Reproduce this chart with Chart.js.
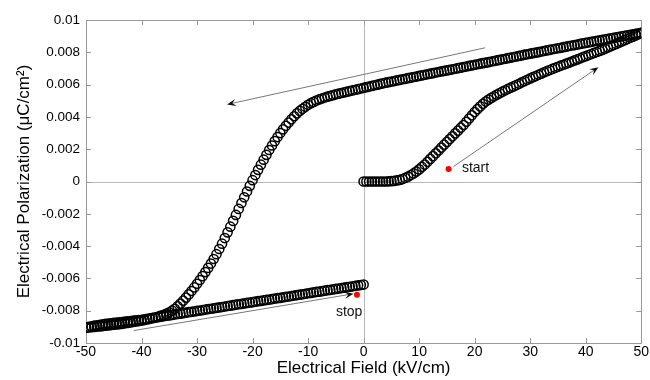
<!DOCTYPE html>
<html><head><meta charset="utf-8">
<script src="https://cdn.jsdelivr.net/npm/chart.js@4/dist/chart.umd.min.js"></script>
<style>html,body{margin:0;padding:0;background:#fff}#wrap{width:650px;height:380px}</style>
</head><body><div id="wrap"><canvas id="c" width="650" height="380"></canvas></div>
<script>
// Tick labels
const xTickValues = [-50,-40,-30,-20,-10,0,10,20,30,40,50];
const yTickValues = [-0.01,-0.008,-0.006,-0.004,-0.002,0,0.002,0.004,0.006,0.008,0.01];

// Branch 1: initial polarization, field 0 -> 50 kV/cm (polarization in 1e-3 uC/cm^2)
const initialField = [0,0.5,1,1.5,2,2.5,3,3.5,4,4.5,5,5.5,6,6.5,7,7.5,8,8.5,9,9.5,10,10.5,11,11.5,12,12.5,13,13.5,14,14.5,15,15.5,16,16.5,17,17.5,18,18.5,19,19.5,20,20.5,21,21.5,22,22.5,23,23.5,24,24.5,25,25.5,26,26.5,27,27.5,28,28.5,29,29.5,30,30.5,31,31.5,32,32.5,33,33.5,34,34.5,35,35.5,36,36.5,37,37.5,38,38.5,39,39.5,40,40.5,41,41.5,42,42.5,43,43.5,44,44.5,45,45.5,46,46.5,47,47.5,48,48.5,49,49.5,50];
const initialPolMilli = [0,0,0,0,0,0,0,0,0,0.01,0.02,0.04,0.07,0.1,0.15,0.22,0.3,0.4,0.5,0.62,0.75,0.9,1.05,1.22,1.4,1.57,1.75,1.92,2.1,2.28,2.45,2.63,2.8,2.98,3.15,3.33,3.5,3.7,3.9,4.1,4.3,4.48,4.65,4.81,4.95,5.07,5.18,5.28,5.38,5.47,5.56,5.65,5.73,5.81,5.89,5.97,6.05,6.14,6.22,6.3,6.38,6.46,6.53,6.61,6.68,6.76,6.83,6.9,6.97,7.04,7.1,7.17,7.23,7.3,7.36,7.43,7.5,7.56,7.63,7.7,7.76,7.83,7.89,7.96,8.02,8.09,8.15,8.22,8.3,8.37,8.45,8.52,8.6,8.67,8.75,8.82,8.9,8.97,9.05,9.12,9.2];

// Branch 2: descending, field 50 -> -50 kV/cm
const descendField = [50,49.5,49,48.5,48,47.5,47,46.5,46,45.5,45,44.5,44,43.5,43,42.5,42,41.5,41,40.5,40,39.5,39,38.5,38,37.5,37,36.5,36,35.5,35,34.5,34,33.5,33,32.5,32,31.5,31,30.5,30,29.5,29,28.5,28,27.5,27,26.5,26,25.5,25,24.5,24,23.5,23,22.5,22,21.5,21,20.5,20,19.5,19,18.5,18,17.5,17,16.5,16,15.5,15,14.5,14,13.5,13,12.5,12,11.5,11,10.5,10,9.5,9,8.5,8,7.5,7,6.5,6,5.5,5,4.5,4,3.5,3,2.5,2,1.5,1,0.5,0,-0.5,-1,-1.5,-2,-2.5,-3,-3.5,-4,-4.5,-5,-5.5,-6,-6.5,-7,-7.5,-8,-8.5,-9,-9.5,-10,-10.5,-11,-11.5,-12,-12.5,-13,-13.5,-14,-14.5,-15,-15.5,-16,-16.5,-17,-17.5,-18,-18.5,-19,-19.5,-20,-20.5,-21,-21.5,-22,-22.5,-23,-23.5,-24,-24.5,-25,-25.5,-26,-26.5,-27,-27.5,-28,-28.5,-29,-29.5,-30,-30.5,-31,-31.5,-32,-32.5,-33,-33.5,-34,-34.5,-35,-35.5,-36,-36.5,-37,-37.5,-38,-38.5,-39,-39.5,-40,-40.5,-41,-41.5,-42,-42.5,-43,-43.5,-44,-44.5,-45,-45.5,-46,-46.5,-47,-47.5,-48,-48.5,-49,-49.5,-50];
const descendPolMilli = [9.2,9.17,9.14,9.11,9.08,9.05,9.02,8.99,8.96,8.93,8.9,8.87,8.84,8.8,8.77,8.74,8.71,8.68,8.65,8.61,8.58,8.55,8.52,8.48,8.45,8.42,8.39,8.35,8.32,8.28,8.25,8.22,8.19,8.15,8.12,8.08,8.05,8.01,7.98,7.95,7.92,7.88,7.85,7.81,7.78,7.74,7.71,7.67,7.64,7.6,7.57,7.53,7.5,7.46,7.43,7.39,7.36,7.33,7.3,7.26,7.23,7.19,7.16,7.12,7.09,7.05,7.02,6.98,6.95,6.91,6.88,6.85,6.82,6.78,6.75,6.71,6.68,6.64,6.61,6.57,6.54,6.5,6.47,6.43,6.4,6.36,6.33,6.29,6.26,6.22,6.19,6.15,6.12,6.08,6.04,6.0,5.96,5.92,5.88,5.84,5.8,5.76,5.72,5.68,5.64,5.6,5.56,5.52,5.48,5.44,5.4,5.35,5.3,5.25,5.2,5.14,5.08,5.01,4.93,4.85,4.75,4.63,4.5,4.37,4.22,4.04,3.85,3.65,3.45,3.23,3.0,2.75,2.5,2.23,1.95,1.65,1.35,1.04,0.72,0.4,0.08,-0.27,-0.62,-0.98,-1.33,-1.7,-2.07,-2.44,-2.8,-3.15,-3.5,-3.85,-4.18,-4.5,-4.8,-5.08,-5.35,-5.61,-5.86,-6.1,-6.33,-6.56,-6.78,-6.99,-7.19,-7.38,-7.56,-7.73,-7.88,-8.0,-8.1,-8.18,-8.25,-8.31,-8.37,-8.42,-8.46,-8.5,-8.54,-8.58,-8.61,-8.64,-8.67,-8.7,-8.73,-8.76,-8.78,-8.81,-8.83,-8.85,-8.87,-8.89,-8.91,-8.93,-8.95,-8.97,-8.98,-9.0,-9.02,-9.04,-9.05];

// Branch 3: return, field -50 -> 0 kV/cm
const returnField = [-50,-49.5,-49,-48.5,-48,-47.5,-47,-46.5,-46,-45.5,-45,-44.5,-44,-43.5,-43,-42.5,-42,-41.5,-41,-40.5,-40,-39.5,-39,-38.5,-38,-37.5,-37,-36.5,-36,-35.5,-35,-34.5,-34,-33.5,-33,-32.5,-32,-31.5,-31,-30.5,-30,-29.5,-29,-28.5,-28,-27.5,-27,-26.5,-26,-25.5,-25,-24.5,-24,-23.5,-23,-22.5,-22,-21.5,-21,-20.5,-20,-19.5,-19,-18.5,-18,-17.5,-17,-16.5,-16,-15.5,-15,-14.5,-14,-13.5,-13,-12.5,-12,-11.5,-11,-10.5,-10,-9.5,-9,-8.5,-8,-7.5,-7,-6.5,-6,-5.5,-5,-4.5,-4,-3.5,-3,-2.5,-2,-1.5,-1,-0.5,0];
const returnPolMilli = [-9.05,-9.0,-8.97,-8.93,-8.9,-8.87,-8.85,-8.82,-8.8,-8.78,-8.76,-8.74,-8.72,-8.7,-8.68,-8.66,-8.64,-8.62,-8.6,-8.58,-8.56,-8.53,-8.5,-8.48,-8.45,-8.42,-8.4,-8.37,-8.34,-8.31,-8.29,-8.26,-8.23,-8.2,-8.18,-8.15,-8.12,-8.09,-8.07,-8.04,-8.01,-7.99,-7.96,-7.93,-7.9,-7.88,-7.85,-7.82,-7.8,-7.77,-7.74,-7.71,-7.69,-7.66,-7.63,-7.6,-7.58,-7.55,-7.52,-7.5,-7.47,-7.44,-7.41,-7.39,-7.36,-7.33,-7.31,-7.28,-7.25,-7.22,-7.2,-7.17,-7.14,-7.12,-7.09,-7.06,-7.03,-7.01,-6.98,-6.95,-6.92,-6.9,-6.87,-6.84,-6.82,-6.79,-6.76,-6.73,-6.71,-6.68,-6.65,-6.63,-6.6,-6.57,-6.54,-6.52,-6.49,-6.46,-6.43,-6.41,-6.38];

// Annotations (data coordinates: field, polarization in 1e-3)
const markerField = [15.3, -1.2];
const markerPolMilli = [0.78, -7.02];
const markerLabels = ['start', 'stop'];
const labelField = [17.7, -2.6];
const labelPolMilli = [0.8, -8.1];
const labelAlign = ['left', 'center'];
const arrowFromField = [21.9, 16.2, -41.4];
const arrowFromPolMilli = [8.28, 0.93, -9.23];
const arrowToField = [-24.6, 42.3, -1.8];
const arrowToPolMilli = [4.77, 7.08, -6.95];

const toPoints = (xs, ys) => xs.map((x, i) => ({x: x, y: ys[i] / 1000}));

const FONT = 'Arial, "Liberation Sans", sans-serif';

const framePlugin = {
  id: 'frame',
  beforeDatasetsDraw(chart) {
    const {ctx, chartArea: a, scales: {x, y}} = chart;
    ctx.save();
    // zero lines
    ctx.strokeStyle = '#b8b8b8';
    ctx.lineWidth = 1;
    ctx.beginPath();
    const x0 = Math.round(x.getPixelForValue(0)) + 0.5;
    const y0 = Math.round(y.getPixelForValue(0)) + 0.5;
    ctx.moveTo(x0, a.top); ctx.lineTo(x0, a.bottom);
    ctx.moveTo(a.left, y0); ctx.lineTo(a.right, y0);
    ctx.stroke();
    // box and inward ticks
    ctx.strokeStyle = '#999999';
    ctx.beginPath();
    ctx.rect(Math.round(a.left) + 0.5, Math.round(a.top) + 0.5, Math.round(a.right - a.left), Math.round(a.bottom - a.top));
    const tl = 5;
    xTickValues.forEach(v => {
      const px = Math.round(x.getPixelForValue(v)) + 0.5;
      ctx.moveTo(px, a.bottom); ctx.lineTo(px, a.bottom - tl);
      ctx.moveTo(px, a.top); ctx.lineTo(px, a.top + tl);
    });
    yTickValues.forEach(v => {
      const py = Math.round(y.getPixelForValue(v)) + 0.5;
      ctx.moveTo(a.left, py); ctx.lineTo(a.left + tl, py);
      ctx.moveTo(a.right, py); ctx.lineTo(a.right - tl, py);
    });
    ctx.stroke();
    // arrows
    for (let i = 0; i < arrowFromField.length; i++) {
      const x1 = x.getPixelForValue(arrowFromField[i]);
      const y1 = y.getPixelForValue(arrowFromPolMilli[i] / 1000);
      const x2 = x.getPixelForValue(arrowToField[i]);
      const y2 = y.getPixelForValue(arrowToPolMilli[i] / 1000);
      const ang = Math.atan2(y2 - y1, x2 - x1);
      const L = 9, W = 3.5;
      ctx.strokeStyle = '#777777';
      ctx.lineWidth = 1;
      ctx.beginPath();
      ctx.moveTo(x1, y1);
      ctx.lineTo(x2 - Math.cos(ang) * 5, y2 - Math.sin(ang) * 5);
      ctx.stroke();
      ctx.fillStyle = '#111111';
      ctx.beginPath();
      ctx.moveTo(x2, y2);
      ctx.lineTo(x2 - Math.cos(ang) * L - Math.sin(ang) * W, y2 - Math.sin(ang) * L + Math.cos(ang) * W);
      ctx.lineTo(x2 - Math.cos(ang) * L * 0.6, y2 - Math.sin(ang) * L * 0.6);
      ctx.lineTo(x2 - Math.cos(ang) * L + Math.sin(ang) * W, y2 - Math.sin(ang) * L - Math.cos(ang) * W);
      ctx.closePath();
      ctx.fill();
    }
    ctx.restore();
  },
  afterDatasetsDraw(chart) {
    const {ctx, scales: {x, y}} = chart;
    ctx.save();
    ctx.fillStyle = '#111111';
    ctx.font = '14px ' + FONT;
    ctx.textBaseline = 'middle';
    markerLabels.forEach((t, i) => {
      ctx.textAlign = labelAlign[i];
      ctx.fillText(t, x.getPixelForValue(labelField[i]), y.getPixelForValue(labelPolMilli[i] / 1000));
    });
    ctx.restore();
  }
};

const ringStyle = {
  showLine: false,
  pointStyle: 'circle',
  pointRadius: 4.6,
  pointBorderWidth: 1.5,
  pointBorderColor: '#000000',
  pointBackgroundColor: 'rgba(0,0,0,0)'
};

new Chart(document.getElementById('c'), {
  type: 'scatter',
  data: {
    datasets: [
      Object.assign({label: 'markers', data: toPoints(markerField, markerPolMilli), showLine: false, pointRadius: 3, pointBorderWidth: 0, pointBackgroundColor: '#ff0000', pointBorderColor: '#ff0000', order: 0}),
      Object.assign({label: 'initial', data: toPoints(initialField, initialPolMilli), order: 3}, ringStyle),
      Object.assign({label: 'descending', data: toPoints(descendField, descendPolMilli), order: 2}, ringStyle),
      Object.assign({label: 'return', data: toPoints(returnField, returnPolMilli), order: 1}, ringStyle)
    ]
  },
  options: {
    responsive: false,
    animation: false,
    devicePixelRatio: 1,
    layout: {padding: {top: 20, right: 8, left: 0, bottom: 0}},
    plugins: {legend: {display: false}, tooltip: {enabled: false}},
    scales: {
      x: {
        type: 'linear', min: -50, max: 50,
        afterFit: s => { s.height = 37; },
        afterBuildTicks: s => { s.ticks = xTickValues.map(v => ({value: v})); },
        grid: {display: false, drawTicks: false},
        border: {display: false},
        ticks: {color: '#000000', font: {family: FONT, size: 14}, padding: 1, maxRotation: 0, autoSkip: false},
        title: {display: true, text: 'Electrical Field (kV/cm)', color: '#000000', font: {family: FONT, size: 17}, padding: {top: 0, bottom: 1}}
      },
      y: {
        type: 'linear', min: -0.01, max: 0.01,
        afterFit: s => { s.width = 86; },
        afterBuildTicks: s => { s.ticks = yTickValues.map(v => ({value: v})); },
        grid: {display: false, drawTicks: false},
        border: {display: false},
        ticks: {color: '#000000', font: {family: FONT, size: 13.5}, padding: 6, autoSkip: false,
          callback: v => String(Number(v.toFixed(3)))},
        title: {display: true, text: 'Electrical Polarization (\u03BCC/cm\u00B2)', color: '#000000', font: {family: FONT, size: 17}, padding: {top: 14, bottom: 0}}
      }
    }
  },
  plugins: [framePlugin]
});
</script>
</body></html>
